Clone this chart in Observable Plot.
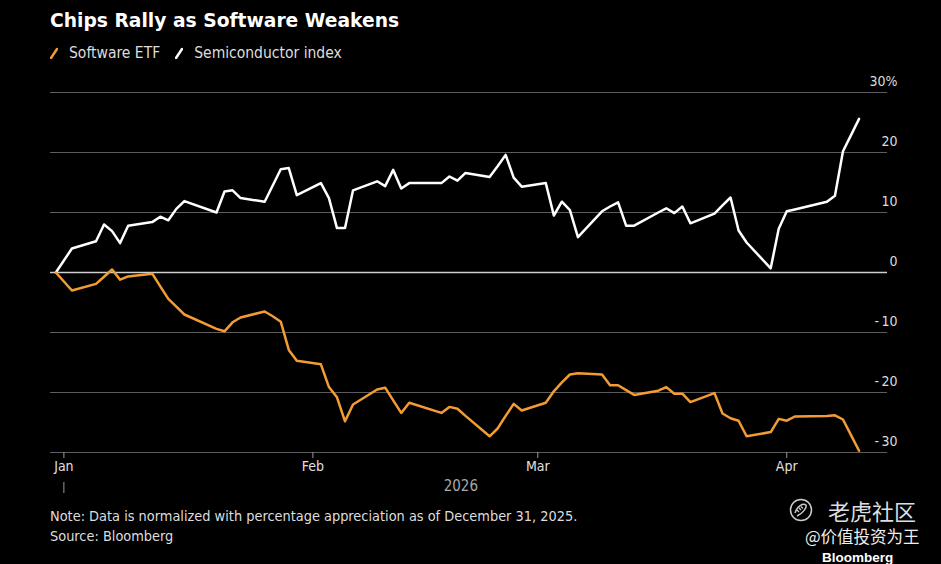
<!DOCTYPE html>
<html>
<head>
<meta charset="utf-8">
<script src="https://cdn.jsdelivr.net/npm/d3@7"></script>
<script src="https://cdn.jsdelivr.net/npm/@observablehq/plot@0.6"></script>
<style>
html, body { margin: 0; padding: 0; background: #000; }
#root { position: relative; width: 941px; height: 564px; background: #000; overflow: hidden; font-family: "DejaVu Sans Condensed", "DejaVu Sans", sans-serif; color: #ddd; }
#title { position: absolute; left: 50px; top: 10px; font-family: "DejaVu Sans", sans-serif; font-weight: bold; font-size: 18.7px; color: #fff; white-space: nowrap; }
#legend { position: absolute; left: 50px; top: 44px; font-size: 15.5px; color: #ddd; white-space: nowrap; display: flex; align-items: center; }
#legend .item { display: flex; align-items: center; margin-right: 15px; }
#legend svg { margin-right: 11px; }
#chart { position: absolute; left: 0; top: 70px; }
#note { position: absolute; left: 50px; top: 508px; font-size: 14.4px; color: #ddd; white-space: nowrap; }
#source { position: absolute; left: 50px; top: 528px; font-size: 14.4px; color: #ddd; white-space: nowrap; }
#wm1 { position: absolute; left: 789px; top: 494px; display: flex; align-items: center; color: #ddd; font-family: "Noto Sans CJK SC", sans-serif; font-size: 22px; white-space: nowrap; }
#wm1 svg { margin-right: 15px; }
#wm2 { position: absolute; left: 805px; top: 528px; color: #eee; font-family: "Noto Sans CJK SC", sans-serif; font-size: 16.5px; white-space: nowrap; line-height: 17px; }
#wm3 { position: absolute; left: 822px; top: 552px; color: #fff; font-family: "Liberation Sans", Arial, sans-serif; font-weight: bold; font-size: 13.5px; white-space: nowrap; line-height: 12px; }
</style>
</head>
<body>
<div id="root">
  <div id="title">Chips Rally as Software Weakens</div>
  <div id="legend">
    <span class="item"><svg width="8" height="12"><line x1="1" y1="11" x2="7" y2="2" stroke="#f39c34" stroke-width="2.5" stroke-linecap="round"/></svg>Software ETF</span>
    <span class="item"><svg width="8" height="12"><line x1="1" y1="11" x2="7" y2="2" stroke="#fff" stroke-width="2.5" stroke-linecap="round"/></svg>Semiconductor index</span>
  </div>
  <div id="chart"></div>
  <div id="note">Note: Data is normalized with percentage appreciation as of December 31, 2025.</div>
  <div id="source">Source: Bloomberg</div>
  <div id="wm1"><svg width="24" height="24" viewBox="0 0 24 24"><circle cx="12" cy="12" r="10.5" fill="none" stroke="#ccc" stroke-width="1.5"/><path d="M6 15 C 8 8, 14 5, 17 7 C 18 10, 13 16, 8 18" fill="none" stroke="#ccc" stroke-width="1.5"/><path d="M8 12 L10 14 M10 10 L12 12 M12 8.5 L14 10.5" stroke="#ccc" stroke-width="1.2"/></svg>老虎社区</div>
  <div id="wm2">@价值投资为王</div>
  <div id="wm3">Bloomberg</div>
</div>
<script>
// ---- data (percent change since Dec 31, 2025) ----
const dates = [
  "2025-12-31","2026-01-02","2026-01-05","2026-01-06","2026-01-07","2026-01-08","2026-01-09",
  "2026-01-12","2026-01-13","2026-01-14","2026-01-15","2026-01-16",
  "2026-01-20","2026-01-21","2026-01-22","2026-01-23",
  "2026-01-26","2026-01-27","2026-01-28","2026-01-29","2026-01-30",
  "2026-02-02","2026-02-03","2026-02-04","2026-02-05","2026-02-06",
  "2026-02-09","2026-02-10","2026-02-11","2026-02-12","2026-02-13",
  "2026-02-17","2026-02-18","2026-02-19","2026-02-20",
  "2026-02-23","2026-02-24","2026-02-25","2026-02-26","2026-02-27",
  "2026-03-02","2026-03-03","2026-03-04","2026-03-05","2026-03-06",
  "2026-03-09","2026-03-10","2026-03-11","2026-03-12","2026-03-13",
  "2026-03-16","2026-03-17","2026-03-18","2026-03-19","2026-03-20",
  "2026-03-23","2026-03-24","2026-03-25","2026-03-26","2026-03-27",
  "2026-03-30","2026-03-31","2026-04-01","2026-04-02",
  "2026-04-06","2026-04-07","2026-04-08","2026-04-09","2026-04-10"
];
const semiconductorValues = [
  0, 4.0, 5.2, 8.0, 6.9, 4.9, 7.8,
  8.4, 9.3, 8.7, 10.6, 11.9,
  10.0, 13.5, 13.7, 12.4,
  11.8, 14.5, 17.2, 17.4, 12.9,
  14.9, 12.4, 7.4, 7.4, 13.7,
  15.2, 14.4, 17.1, 14.0, 14.9,
  14.9, 16.0, 15.3, 16.6,
  15.9, 17.7, 19.6, 15.8, 14.3,
  14.9, 9.5, 11.8, 10.4, 5.9,
  10.2, 11.0, 11.7, 7.8, 7.8,
  10.0, 10.7, 9.9, 11.0, 8.2,
  9.8, 11.2, 12.5, 7.0, 5.0,
  0.7, 7.3, 10.2, 10.5,
  11.8, 12.8, 20.2, 22.9, 25.6
];
const softwareValues = [
  0, -3.0, -1.9, -0.7, 0.5, -1.2, -0.65,
  -0.2, -2.3, -4.4, -5.7, -7.0,
  -9.4, -9.8, -8.3, -7.5,
  -6.5, -7.3, -8.2, -12.9, -14.7,
  -15.3, -19.1, -20.8, -24.8, -22.0,
  -19.5, -19.2, -21.3, -23.4, -21.7,
  -23.4, -22.4, -22.7, -23.9,
  -27.3, -26.0, -23.9, -21.9, -23.0,
  -21.7, -19.8, -18.3, -17.0, -16.8,
  -17.0, -18.8, -18.8, -19.6, -20.4,
  -19.7, -19.1, -20.2, -20.2, -21.6,
  -20.1, -23.5, -24.3, -24.7, -27.3,
  -26.6, -24.4, -24.7, -24.0,
  -23.9, -23.8, -24.5, -27.1, -29.7
];
const yTicks = [-30, -20, -10, 0, 10, 20, 30];
const monthTicks = ["2026-01-01", "2026-02-01", "2026-03-01", "2026-04-01"];
const yearLabel = "2026";
const yearLabelDate = "2026-02-19T10:00:00Z";
const xDomain = ["2025-12-30T08:00:00Z", "2026-04-13T13:00:00Z"];

const toDate = s => new Date(s.length === 10 ? s + "T00:00:00Z" : s);
const semis = dates.map((d, i) => ({date: toDate(d), value: semiconductorValues[i]}));
const software = dates.map((d, i) => ({date: toDate(d), value: softwareValues[i]}));
const months = monthTicks.map(toDate);

const fmtY = d => d === 30 ? "30%" : d < 0 ? "-\u2009" + (-d) : String(d);
const font = "DejaVu Sans Condensed";

const chart = Plot.plot({
  width: 941,
  height: 430,
  marginLeft: 50,
  marginRight: 54,
  marginTop: 22,
  marginBottom: 48,
  style: {background: "transparent", color: "#ddd", fontFamily: font, fontSize: "14px", overflow: "visible"},
  x: {type: "utc", domain: xDomain.map(toDate), axis: null},
  y: {domain: [-30, 30], axis: null},
  marks: [
    Plot.ruleY(yTicks.filter(d => d !== 0), {y: d => d, stroke: "#5c5c5c", strokeWidth: 1.2}),
    Plot.ruleY([0], {stroke: "#cfcfcf", strokeWidth: 1.5}),
    Plot.text(yTicks, {y: d => d, text: fmtY, frameAnchor: "right", textAnchor: "end", lineAnchor: "bottom", dx: 10, dy: -7, fill: "#dcdcdc", fontSize: 14}),
    Plot.axisX(months, {tickSize: 6, tickPadding: 3, tickFormat: d3.utcFormat("%b"), stroke: "#999", fill: "#e0e0e0", fontSize: 14}),
    Plot.axisX([months[0]], {tickSize: 11, tickFormat: () => "", dy: 30, stroke: "#999"}),
    Plot.text([yearLabel], {x: () => toDate(yearLabelDate), text: d => d, frameAnchor: "bottom", lineAnchor: "middle", dy: 34, fill: "#a8a8a8", fontSize: 15}),
    Plot.line(semis, {x: "date", y: "value", stroke: "#ffffff", strokeWidth: 2.5, strokeLinejoin: "round"}),
    Plot.line(software, {x: "date", y: "value", stroke: "#f39c34", strokeWidth: 2.5, strokeLinejoin: "round"})
  ]
});
document.getElementById("chart").appendChild(chart);
</script>
</body>
</html>
